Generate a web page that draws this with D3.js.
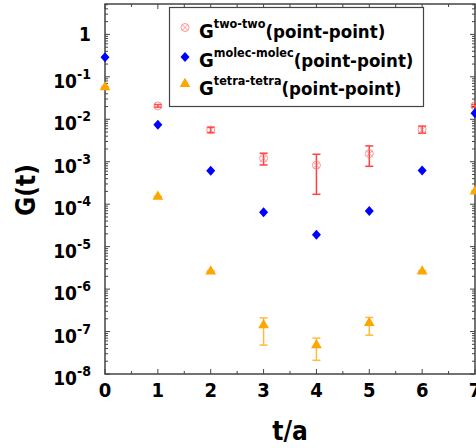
<!DOCTYPE html>
<html>
<head>
<meta charset="utf-8">
<script src="https://cdn.jsdelivr.net/npm/d3@7"></script>
<style>
  body { margin: 0; background: #fff; }
  svg { display: block; font-family: "DejaVu Sans Condensed", "DejaVu Sans", sans-serif; font-stretch: condensed; font-weight: bold; }
</style>
</head>
<body>
<svg width="476" height="448"></svg>
<script>
// time slices
var tAll = [0, 1, 2, 3, 4, 5, 6, 7];

// G two-two (point-point), no point at t=0
var twoT   = [1, 2, 3, 4, 5, 6, 7];
var twoVal = [0.0207, 5.6e-3, 1.21e-3, 8.3e-4, 1.55e-3, 5.7e-3, 0.0207];
var twoLo  = [0.0193, 4.85e-3, 8.4e-4, 1.71e-4, 7.8e-4, 4.7e-3, 0.0193];
var twoHi  = [0.0222, 6.5e-3, 1.59e-3, 1.5e-3, 2.36e-3, 6.9e-3, 0.0222];

// G molec-molec (point-point)
var molecVal = [0.29, 0.0074, 6.1e-4, 6.5e-5, 1.9e-5, 6.9e-5, 6.2e-4, 0.0139];

// G tetra-tetra (point-point)
var tetraVal = [0.057, 1.5e-4, 2.6e-6, 1.41e-7, 4.8e-8, 1.6e-7, 2.6e-6, 2.0e-4];
var tetraLo  = [0.056, 1.46e-4, 2.5e-6, 4.8e-8, 2.1e-8, 8.2e-8, 2.5e-6, 1.95e-4];
var tetraHi  = [0.058, 1.54e-4, 2.7e-6, 2.1e-7, 7.0e-8, 2.15e-7, 2.7e-6, 2.05e-4];

var legendNames = ["two-two", "molec-molec", "tetra-tetra"];
var xTicks = [0, 1, 2, 3, 4, 5, 6, 7];
var yDecades = [0, -1, -2, -3, -4, -5, -6, -7, -8];

var svg = d3.select("svg"),
    pLeft = 105, pRight = 475, pTop = 4, pBottom = 374;

var x = d3.scaleLinear().domain([0, 7]).range([pLeft, pRight]),
    y = d3.scaleLog().domain([1e-8, 5.2]).range([pBottom, pTop]);

var axisColor = "#444";

// frame
svg.append("rect")
    .attr("x", pLeft).attr("y", pTop)
    .attr("width", pRight - pLeft).attr("height", pBottom - pTop)
    .attr("fill", "none").attr("stroke", axisColor).attr("stroke-width", 1.5);

// x ticks (bottom and top, inward)
var xMinor = d3.range(0.5, 7, 1);
xTicks.forEach(function(t) {
  svg.append("line").attr("x1", x(t)).attr("x2", x(t)).attr("y1", pBottom).attr("y2", pBottom - 5)
      .attr("stroke", axisColor);
  svg.append("line").attr("x1", x(t)).attr("x2", x(t)).attr("y1", pTop).attr("y2", pTop + 5)
      .attr("stroke", axisColor);
});
xMinor.forEach(function(t) {
  svg.append("line").attr("x1", x(t)).attr("x2", x(t)).attr("y1", pBottom).attr("y2", pBottom - 3)
      .attr("stroke", axisColor);
  svg.append("line").attr("x1", x(t)).attr("x2", x(t)).attr("y1", pTop).attr("y2", pTop + 3)
      .attr("stroke", axisColor);
});

// y ticks (left and right)
var yMajor = [], yMinor = [];
for (var e = -8; e <= 0; e++) {
  yMajor.push(Math.pow(10, e));
  for (var m = 2; m <= 9; m++) {
    var v = m * Math.pow(10, e);
    if (v <= 5.2) yMinor.push(v);
  }
}
yMajor.forEach(function(v) {
  svg.append("line").attr("x1", pLeft).attr("x2", pLeft + 5).attr("y1", y(v)).attr("y2", y(v)).attr("stroke", axisColor);
  svg.append("line").attr("x1", pRight).attr("x2", pRight - 5).attr("y1", y(v)).attr("y2", y(v)).attr("stroke", axisColor);
});
yMinor.forEach(function(v) {
  svg.append("line").attr("x1", pLeft).attr("x2", pLeft + 3).attr("y1", y(v)).attr("y2", y(v)).attr("stroke", axisColor);
  svg.append("line").attr("x1", pRight).attr("x2", pRight - 3).attr("y1", y(v)).attr("y2", y(v)).attr("stroke", axisColor);
});

// x tick labels
svg.append("g").selectAll("text")
    .data(xTicks)
    .enter().append("text")
    .attr("x", function(d) { return x(d); })
    .attr("y", 397)
    .attr("text-anchor", "middle")
    .style("font-size", "20px")
    .text(function(d) { return d; });

// y tick labels
yDecades.forEach(function(e) {
  var lab = svg.append("text")
      .attr("x", 91)
      .attr("y", y(Math.pow(10, e)) + (e === 0 ? 7 : 11))
      .attr("text-anchor", "end")
      .style("font-size", "19px");
  if (e === 0) {
    lab.text("1");
  } else {
    lab.append("tspan").text("10");
    lab.append("tspan").attr("dy", -9).style("font-size", "14px").text(e);
  }
});

// axis titles
svg.append("text")
    .attr("transform", "translate(35," + 190 + ") rotate(-90)")
    .attr("text-anchor", "middle")
    .style("font-size", "26px")
    .text("G(t)");

svg.append("text")
    .attr("x", x(3.5))
    .attr("y", 440)
    .attr("text-anchor", "middle")
    .style("font-size", "26px")
    .text("t/a");

var red = "#ff2020", blue = "#0000ff", orange = "#ffa500";

// error bars
function errBars(ts, lo, hi, color, opacity) {
  var g = svg.append("g").attr("stroke", color).attr("stroke-width", 1.5).attr("opacity", opacity);
  ts.forEach(function(t, i) {
    var cx = x(t);
    g.append("line").attr("x1", cx).attr("x2", cx).attr("y1", y(lo[i])).attr("y2", y(hi[i]));
    g.append("line").attr("x1", cx - 4).attr("x2", cx + 4).attr("y1", y(lo[i])).attr("y2", y(lo[i]));
    g.append("line").attr("x1", cx - 4).attr("x2", cx + 4).attr("y1", y(hi[i])).attr("y2", y(hi[i]));
  });
}
errBars(twoT, twoLo, twoHi, red, 0.85);
errBars(tAll, tetraLo, tetraHi, orange, 0.75);

// markers
function crossCircle(g, cx, cy, r) {
  g.append("circle").attr("cx", cx).attr("cy", cy).attr("r", r);
  var d = r * 0.7;
  g.append("line").attr("x1", cx - d).attr("y1", cy - d).attr("x2", cx + d).attr("y2", cy + d);
  g.append("line").attr("x1", cx - d).attr("y1", cy + d).attr("x2", cx + d).attr("y2", cy - d);
}

var twoG = svg.append("g").attr("fill", "none").attr("stroke", "#ff7070").attr("stroke-width", 1).attr("opacity", 0.75);
twoT.forEach(function(t, i) { crossCircle(twoG, x(t), y(twoVal[i]), 4); });

var diamond = "M0,-5L4.5,0L0,5L-4.5,0Z";
var triangle = d3.symbol().type(d3.symbolTriangle).size(50);

svg.append("g").selectAll("path")
    .data(molecVal)
    .enter().append("path")
    .attr("d", diamond)
    .attr("transform", function(d, i) { return "translate(" + x(tAll[i]) + "," + y(d) + ")"; })
    .attr("fill", blue);

svg.append("g").selectAll("path")
    .data(tetraVal)
    .enter().append("path")
    .attr("d", triangle)
    .attr("transform", function(d, i) { return "translate(" + x(tAll[i]) + "," + y(d) + ")"; })
    .attr("fill", orange);

// legend
var lg = svg.append("g");
lg.append("rect")
    .attr("x", 169.5).attr("y", 7.5).attr("width", 254).attr("height", 99)
    .attr("fill", "#fff").attr("stroke", axisColor).attr("stroke-width", 1.2);

var rowY = [38, 67, 95];
legendNames.forEach(function(name, i) {
  var t = lg.append("text").attr("x", 199).attr("y", rowY[i]).style("font-size", "20px");
  t.append("tspan").text("G");
  t.append("tspan").attr("dy", -10).style("font-size", "12.5px").text(name);
  t.append("tspan").attr("dy", 10).style("font-size", "18.5px").text("(point-point)");
});
var lgTwo = lg.append("g").attr("fill", "none").attr("stroke", "#ff7070").attr("stroke-width", 1).attr("opacity", 0.75);
crossCircle(lgTwo, 185, 27.5, 4);
lg.append("path").attr("d", diamond).attr("transform", "translate(185,57)").attr("fill", blue);
lg.append("path").attr("d", triangle).attr("transform", "translate(185,84)").attr("fill", orange);
</script>
</body>
</html>
